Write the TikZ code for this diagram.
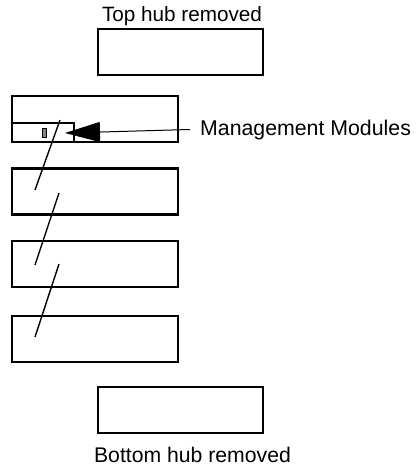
\documentclass[tikz,border=0pt]{standalone}
\usepackage{fontspec}
\setmainfont{Liberation Sans}
\usetikzlibrary{arrows.meta}

\begin{document}
\begin{tikzpicture}[x=1pt,y=-1pt]
    \tikzstyle{hub}=[draw,line width=2.6pt,minimum width=165pt,minimum height=46pt,inner sep=0pt]
    \tikzstyle{unit}=[draw,line width=2.6pt,minimum width=166pt,minimum height=46pt,inner sep=0pt]
    \tikzstyle{cable}=[line width=1.4pt]
    \useasboundingbox (0,0) rectangle (416,469);
    % hubs taken out of the stack
    \node[hub] (tophub) at (180.5,52) {};
    \node[hub] (bothub) at (180.5,410) {};
    \node[anchor=base] (toplbl) at (182,21) {\fontsize{20.7}{24}\selectfont Top hub removed};
    \node[anchor=base] (botlbl) at (192.5,462) {\fontsize{21.2}{24}\selectfont Bottom hub removed};
    % the stack
    \foreach \y/\n in {119/unita,191.5/unitb,264/unitc,339/unitd}
      \node[unit] (\n) at (95,\y) {};
    \node[draw,line width=2.6pt,minimum width=62pt,minimum height=19pt,inner sep=0pt] (module) at (43,132.5) {};
    \node[draw,fill=gray,line width=0.8pt,minimum width=4pt,minimum height=8.6pt,inner sep=0pt] (chip) at (44.3,133) {};
    % cables between units
    \foreach \a/\b in {{(60,120)}/{(35,190)},{(59,193)}/{(35,265)},{(59,264)}/{(35,337)}}
      \draw[cable] \a -- \b;
    % callout
    \coordinate (tip) at (65,133);
    \node[anchor=west,inner xsep=10pt,inner ysep=0pt] (mm) at (190,129.5) {\fontsize{21.3}{24}\selectfont Management Modules};
    \draw[line width=1pt,-{Triangle[length=35pt,width=20pt]}] (mm.west) -- (tip);
\end{tikzpicture}
\end{document}
